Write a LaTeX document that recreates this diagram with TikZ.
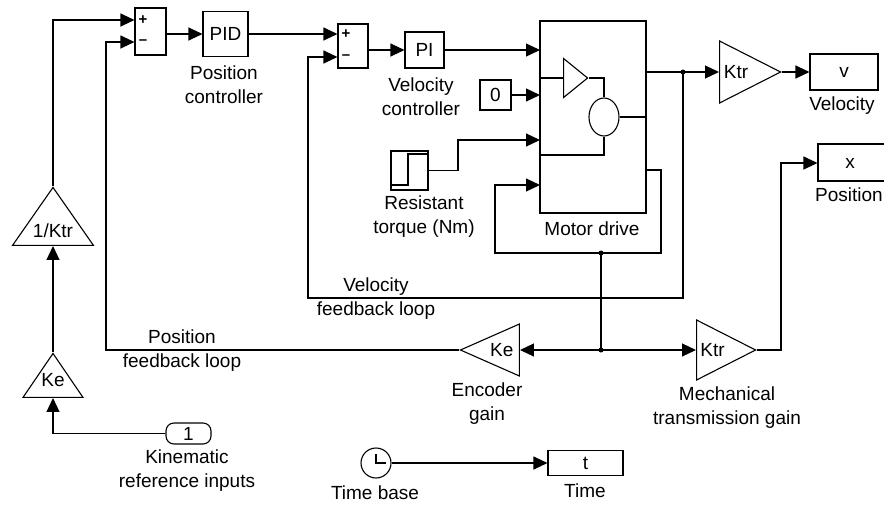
\documentclass[tikz,border=0pt]{standalone}
\usepackage{fontspec}
\setmainfont{Liberation Sans}
\usetikzlibrary{arrows.meta,shapes.geometric}

\tikzset{
  block/.style={draw,line width=1.1pt,inner sep=0pt},
  gain/.style={draw,line width=1.1pt,inner sep=0pt,isosceles triangle,isosceles triangle stretches},
  sig/.style={line width=1.1pt,-{Triangle[length=14pt,width=13pt]}},
  wire/.style={line width=1.1pt},
  junction/.style={circle,fill=black,inner sep=0pt,minimum size=5pt},
  lbl/.style={align=center,inner sep=0pt,font=\fontsize{19}{24}\selectfont},
  txt/.style={inner sep=0pt,font=\fontsize{19}{24}\selectfont},
  sign/.style={inner sep=0pt,font=\fontsize{15}{15}\selectfont\bfseries},
}

\begin{document}
\begin{tikzpicture}[x=1pt,y=-1pt]
   \path[use as bounding box,clip] (0,0) rectangle (884,504);

   % position loop
   \node[block,minimum width=31pt,minimum height=47pt] (suma) at (150.5,31.5) {};
   \node[sign] (sumaplus) at (143,20) {+};
   \node[sign] (sumaminus) at (143,42) {--};
   \node[block,txt,minimum width=45pt,minimum height=45pt] (pid) at (225.5,34) {PID};

   % velocity loop
   \node[block,minimum width=30pt,minimum height=44pt] (sumb) at (353,46) {};
   \node[sign] (sumbplus) at (346,34) {+};
   \node[sign] (sumbminus) at (346,57) {--};
   \node[block,txt,minimum width=39pt,minimum height=36pt] (pi) at (424.5,50) {PI};

   \node[block,txt,minimum width=31pt,minimum height=30pt] (zero) at (495.5,95) {0};

   \node[block,minimum width=37pt,minimum height=39pt] (torque) at (409.5,170.5) {};
   \draw[wire] (391,185) -- (408,185) -- (408,154) -- (428,154);

   % motor drive and what it holds
   \node[block,minimum width=106pt,minimum height=192pt] (motor) at (593,117) {};
   \coordinate (motora) at (540,50);
   \coordinate (motorb) at (540,95);
   \coordinate (motorc) at (540,140);
   \coordinate (motord) at (540,185);
   \coordinate (motorback) at (540,155);
   \coordinate (motorout) at (646,170);
   \node[gain,minimum width=39pt,minimum height=24pt,anchor=apex] (amp) at (589,78) {};
   \node[block,ellipse,minimum width=30pt,minimum height=38pt] (armature) at (604,117) {};
   \draw[wire] (motor.west |- amp.lower side) -- (amp.lower side);
   \draw[wire] (amp.apex) -| (armature.north);
   \draw[wire] (armature.south) |- (motorback);
   \draw[wire] (armature.east) -- (motor.east |- armature.east);

   % gains
   \node[gain,txt,minimum width=62pt,minimum height=61pt,anchor=apex] (ktrv) at (782,72) {\kern-3pt Ktr\kern3pt};
   \node[gain,txt,minimum width=60pt,minimum height=59pt,anchor=apex] (ktrx) at (757,350) {\kern-3pt Ktr\kern3pt};
   \node[gain,txt,minimum width=52pt,minimum height=59pt,shape border rotate=180,anchor=apex] (kefb) at (459,350) {Ke};
   \node[gain,txt,minimum width=81pt,minimum height=58pt,shape border rotate=90,anchor=apex] (ktrinv) at (53,186) {\raisebox{-3pt}[0pt][0pt]{1/Ktr}};
   \node[gain,txt,minimum width=60pt,minimum height=44pt,shape border rotate=90,anchor=apex] (keref) at (53,352) {\raisebox{1pt}[0pt][0pt]{Ke}};

   % sinks
   \node[block,txt,minimum width=68pt,minimum height=36pt] (velo) at (844,72) {v};
   \node[block,minimum width=82pt,minimum height=37pt] (posi) at (859,162.5) {};
   \node[txt] (positxt) at (850,163) {x};
   \node[block,txt,minimum width=75pt,minimum height=25pt] (timeout) at (585.5,463) {t};

   % sources
   \node[block,txt,rounded corners=8pt,minimum width=45pt,minimum height=21pt] (refin) at (188.5,433.5) {1};
   \node[block,circle,minimum size=30pt] (clock) at (376,463) {};
   \draw[wire] (376,454) -- (clock.center) -- (386,463);

   % junctions
   \node[junction] (jvel) at (683,72) {};
   \node[junction] (jtop) at (601,253) {};
   \node[junction] (jbot) at (601,350) {};
   \coordinate (velcorner) at (308,298);
   \coordinate (poscorner) at (106,350);

   % signal path
   \draw[sig] (ktrinv.apex) |- (suma.west |- sumaplus);
   \draw[sig] (suma.east |- pid) -- (pid.west);
   \draw[sig] (pid.east) -- (sumb.west |- sumbplus);
   \draw[sig] (sumb.east |- pi) -- (pi.west);
   \draw[sig] (pi.east) -- (motora);
   \draw[sig] (zero.east) -- (motorb);
   \draw[sig] (torque.east) -- (458,170.5) |- (motorc);
   \draw[sig] (refin.west) -| (keref.lower side);
   \draw[sig] (keref.apex) -- (ktrinv.lower side);
   \draw[sig] (motor.east |- jvel) -- (ktrv.lower side);
   \draw[sig] (ktrv.apex) -- (velo.west |- ktrv.apex);
   \draw[wire] (motorout) -| (661,253) -- (jtop.center);
   \draw[sig] (jtop.center) -| (495,219) |- (motord);
   \draw[wire] (jtop.center) -- (jbot.center);
   \draw[sig] (jbot.center) -- (kefb.lower side);
   \draw[sig] (jbot.center) -- (ktrx.lower side);
   \draw[sig] (jvel.center) |- (velcorner) |- (sumb.west |- sumbminus);
   \draw[sig] (kefb.apex) -- (poscorner) |- (suma.west |- sumaminus);
   \draw[sig] (ktrx.apex) -| (781,250) |- (posi.west |- positxt);
   \draw[sig] (clock.east) -- (timeout.west);

   % labels
   \node[lbl] (lblpid) at (224,85) {Position\\controller};
   \node[lbl] (lblpi) at (421,97) {Velocity\\controller};
   \node[lbl] (lbltorque) at (424,217) {Resistant\\torque (Nm)};
   \node[lbl] (lblmotor) at (592,229) {Motor drive};
   \node[lbl] (lblvelo) at (842,106) {Velocity};
   \node[lbl,anchor=west] (lblposi) at (815,195) {Position};
   \node[lbl] (lblvelfb) at (376,298.5) {Velocity\\feedback loop};
   \node[lbl] (lblposfb) at (182,350.5) {Position\\feedback loop};
   \node[lbl] (lblenc) at (487,403.5) {Encoder\\gain};
   \node[lbl] (lblmech) at (727,408) {Mechanical\\transmission gain};
   \node[lbl] (lblref) at (187,471) {Kinematic\\reference inputs};
   \node[lbl] (lblclock) at (375,493) {Time base};
   \node[lbl] (lbltime) at (585,491) {Time};
\end{tikzpicture}
\end{document}
